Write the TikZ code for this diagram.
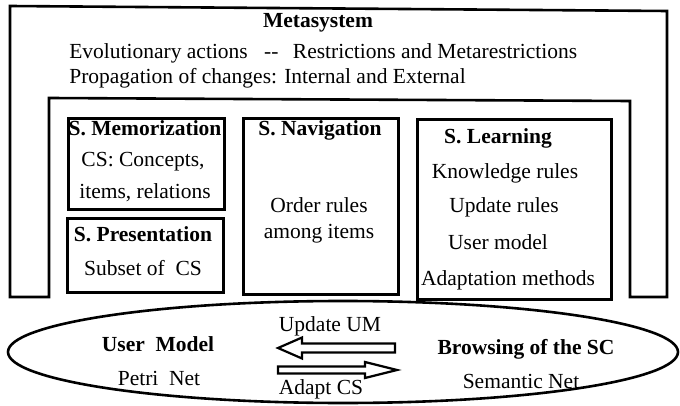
\documentclass[tikz,border=0pt]{standalone}
\usepackage{fontspec}
\setmainfont{Liberation Serif}
\usetikzlibrary{positioning}

\begin{document}
\begin{tikzpicture}[x=1pt, y=-1pt, line width=2.6pt, line join=miter,
                txt/.style ={font=\fontsize{21.5}{24}\selectfont, inner sep=0pt, text height=12pt, text depth=0pt},
                head/.style ={txt, font=\fontsize{21.5}{24}\selectfont\bfseries},
                sbox/.style ={draw, rectangle, inner sep=0pt, anchor=north west},
                barrow/.style ={draw, line width=2.2pt}]

            \useasboundingbox (0,0) rectangle (680,406);

            % metasystem (arch round the subsystems)
            \draw (10,297) -- (10,6) -- (667,11) -- (667,297) -- (630,297) -- (630,101) -- (49,98) -- (49,297) -- cycle;
            \node[head] (meta) at (318,22) {Metasystem};
            \node[txt, anchor=west] (evo) at (68,53) {Evolutionary actions\hspace{11pt} -{}-\hspace{9pt} Restrictions and Metarestrictions};
            \node[txt, anchor=west] (prop) at (68,78) {Propagation of changes: Internal and External};

            % subsystems
            \node[sbox, minimum width=156, minimum height=91] (mem) at (67,117) {};
            \node[sbox, minimum width=156, minimum height=74] (pre) at (66,217) {};
            \node[sbox, minimum width=155, minimum height=176] (nav) at (242,117) {};
            \node[sbox, minimum width=194, minimum height=180] (lrn) at (416,118) {};

            \node[head] (memT) at (145,130) {S. Memorization};
            \node[txt] (memA) at (143,161) {CS: Concepts,};
            \node[txt] (memB) at (145,193) {items, relations};
            \node[head] (preT) at (143,235) {S. Presentation};
            \node[txt] (preA) at (143,270) {Subset of\ \ CS};
            \node[head] (navT) at (320,130) {S. Navigation};
            \node[txt] (navA) at (319,207) {Order rules};
            \node[txt] (navB) at (319,233) {among items};
            \node[head] (lrnT) at (498,138) {S. Learning};
            \node[txt] (lrnA) at (505,173) {Knowledge rules};
            \node[txt] (lrnB) at (504,207) {Update rules};
            \node[txt] (lrnC) at (498,243) {User model};
            \node[txt] (lrnD) at (508,279) {Adaptation methods};

            % user model and browsing
            \draw (343,352) ellipse [x radius=335, y radius=51];
            \node[head] (um) at (158,345) {User\ \ Model};
            \node[txt] (umA) at (159,379) {Petri\ \ Net};
            \node[head] (br) at (526,348) {Browsing of the SC};
            \node[txt] (brA) at (521,382) {Semantic Net};

            \coordinate (ltip) at (278,348);
            \coordinate (rtail) at (278,370);
            \draw[barrow] (ltip) -- ++(24,-10.5) -- ++(0,6) -- ++(93,0) -- ++(0,9) -- ++(-93,0) -- ++(0,6) -- cycle;
            \draw[barrow] (rtail) -- ++(0,-3.5) -- ++(87,0) -- ++(0,-4.5) -- ++(32,8) -- ++(-32,8) -- ++(0,-4.5) -- ++(-87,0) -- cycle;
            \node[txt] (upd) at (330,325) {Update UM};
            \node[txt] (adp) at (321,388) {Adapt CS};
            %\path (upd) edge (adp);
    \end{tikzpicture}
\end{document}
